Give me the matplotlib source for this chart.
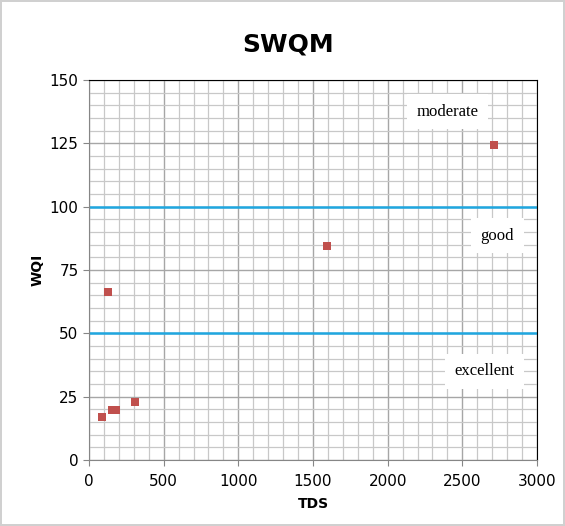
import matplotlib
matplotlib.use("Agg")
import matplotlib.pyplot as plt
from matplotlib.ticker import MultipleLocator

tds = [85, 152, 181, 308, 127, 1594, 2714]
wqi = [17.0, 19.9, 19.9, 22.8, 66.5, 84.3, 124.5]
limits = [50, 100]
zone_labels = ["excellent", "good", "moderate"]
zone_pos = [(2650, 35), (2735, 88.5), (2400, 137.5)]

fig = plt.figure(figsize=(5.65, 5.26), dpi=100)
fig.patch.set_edgecolor("#D0D0D0")
fig.patch.set_linewidth(1.5)
ax = fig.add_axes([0.1575, 0.1255, 0.7929, 0.7224])

ax.set_xlim(0, 3000)
ax.set_ylim(0, 150)
ax.xaxis.set_major_locator(MultipleLocator(500))
ax.xaxis.set_minor_locator(MultipleLocator(100))
ax.yaxis.set_major_locator(MultipleLocator(25))
ax.yaxis.set_minor_locator(MultipleLocator(5))
ax.grid(True, which="major", color="#A6A6A6", lw=1.0)
ax.grid(True, which="minor", color="#C8C8C8", lw=0.9)
ax.set_axisbelow(True)
ax.tick_params(which="minor", length=0)
ax.tick_params(which="major", length=4, color="#868686", labelsize=11, colors="#000000")
ax.tick_params(axis="x", pad=6)
for s in ["left", "bottom"]:
    ax.spines[s].set_color("#868686")
for s in ["top", "right"]:
    ax.spines[s].set_color("#000000")

for lim in limits:
    ax.axhline(lim, color="#1FA7E0", lw=1.8, zorder=2)

ax.scatter(tds, wqi, marker="s", s=28, color="#C0504D", zorder=4, linewidths=0)

for lab, (x, y) in zip(zone_labels, zone_pos):
    ax.text(x, y, lab, family="Liberation Serif", fontsize=12, ha="center", va="center",
            bbox=dict(facecolor="white", edgecolor="none", pad=7), zorder=3)

fig.text(0.51, 0.915, "SWQM", fontsize=18, fontweight="bold", ha="center", va="center")
ax.set_xlabel("TDS", fontsize=10, fontweight="bold", labelpad=6)
ax.set_ylabel("WQI", fontsize=10, fontweight="bold", labelpad=4)

fig.savefig("out.png", dpi=100)
